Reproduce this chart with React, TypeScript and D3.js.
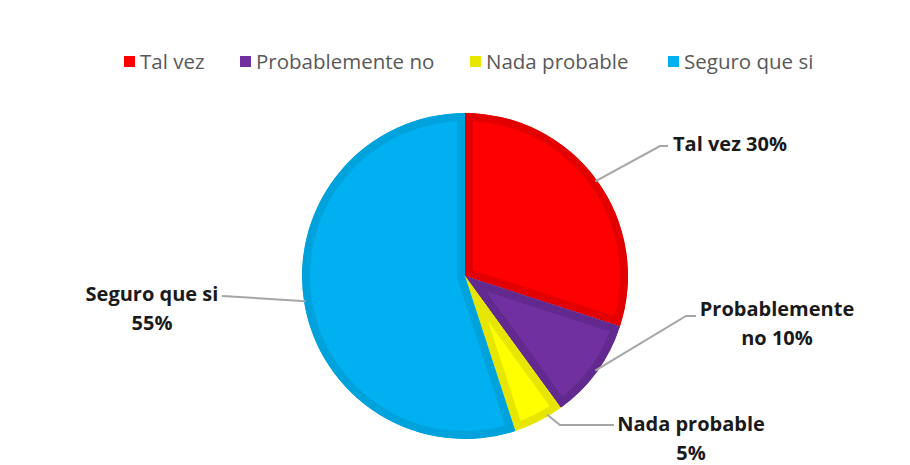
import React from 'react'
import * as d3 from 'd3'

const width = 910
const height = 465

const categories = ['Tal vez', 'Probablemente no', 'Nada probable', 'Seguro que si']
const values = [30, 10, 5, 55]
const fills = ['#FF0000', '#7030A0', '#FFFF00', '#00B0F0']
const borders = ['#E20000', '#622A8E', '#E6E600', '#00A2DC']
// label lines (text lines per slice)
const labelLines = [
  ['Tal vez 30%'],
  ['Probablemente', 'no 10%'],
  ['Nada probable', '5%'],
  ['Seguro que si', '55%'],
]

const cx = 465
const cy = 276
const radius = 163

// label anchor spots, leader line elbow and text positions
const labelPos = [
  { x: 730, y: 151, elbow: [660, 146], end: [668, 146], angleAt: 0.5 },
  { x: 777, y: 316, elbow: [686, 316], end: [696, 316], angleAt: 0.5 },
  { x: 691, y: 431, elbow: [560, 425], end: [614, 425], angleAt: 0.3 },
  { x: 152, y: 301, elbow: [222, 296], end: [222, 296], angleAt: 0.5 },
]

const legendX = [124, 240, 470, 668]

export default function App() {
  const pie = d3.pie<number>().sort(null).value(d => d)
  const arcs = pie(values)
  const arcFn = d3.arc<d3.PieArcDatum<number>>().innerRadius(0).outerRadius(radius)

  return (
    <svg width={width} height={height} style={{ position: 'absolute', left: 0, top: 0, fontFamily: 'Open Sans, sans-serif' }}>
      <defs>
        {arcs.map((a, i) => (
          <clipPath id={`clip${i}`} key={i}>
            <path d={arcFn(a) || ''} />
          </clipPath>
        ))}
      </defs>
      <g>
        {categories.map((c, i) => (
          <g key={c} transform={`translate(${legendX[i]},62)`}>
            <rect x={0} y={-6} width={11} height={11} fill={fills[i] === '#FFFF00' ? '#E6E600' : fills[i]} />
            <text x={16} y={7} fontSize={20.5} fill="#595959">{c}</text>
          </g>
        ))}
      </g>
      <g transform={`translate(${cx},${cy})`}>
        {arcs.map((a, i) => (
          <path
            key={i}
            d={arcFn(a) || ''}
            fill={fills[i]}
            stroke={borders[i]}
            strokeWidth={16}
            strokeLinejoin="miter"
            clipPath={`url(#clip${i})`}
          />
        ))}
      </g>
      {arcs.map((a, i) => {
        const p = labelPos[i]
        const ang = a.startAngle + (a.endAngle - a.startAngle) * p.angleAt
        const sx = cx + Math.sin(ang) * (radius - 2)
        const sy = cy - Math.cos(ang) * (radius - 2)
        const pts: [number, number][] = [[sx, sy], p.elbow as [number, number], p.end as [number, number]]
        return (
          <g key={i}>
            <path d={d3.line()(pts) || ''} fill="none" stroke="#A6A6A6" strokeWidth={2} />
            {labelLines[i].map((t, j) => (
              <text key={j} x={p.x} y={p.y + j * 29} textAnchor="middle" fontSize={20} fontWeight="bold" fill="#1A1A1A">
                {t}
              </text>
            ))}
          </g>
        )
      })}
    </svg>
  )
}
